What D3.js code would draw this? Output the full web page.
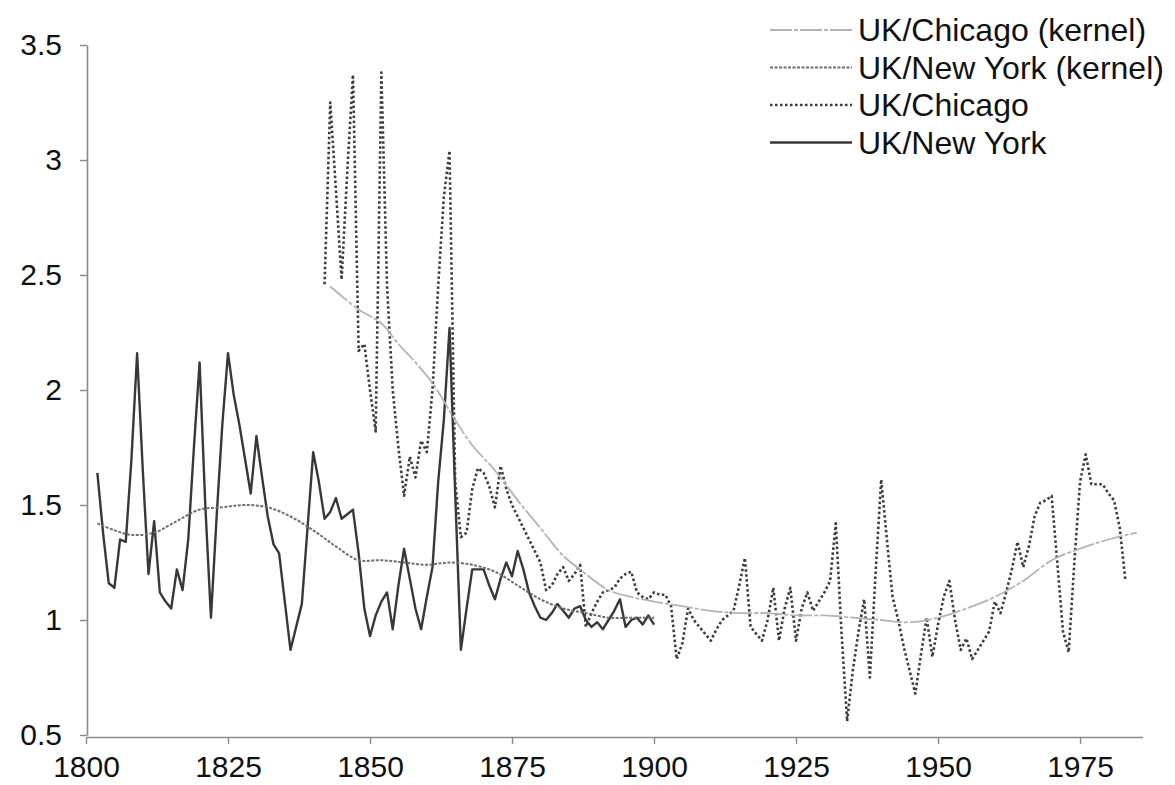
<!DOCTYPE html>
<html>
<head>
<meta charset="utf-8">
<script src="https://cdn.jsdelivr.net/npm/d3@7"></script>
<style>
  body { margin: 0; background: #fff; }
  svg { display: block; font-family: "Liberation Sans", Arial, sans-serif; }
</style>
</head>
<body>
<script>
// annual series
const nyYears = d3.range(1802, 1901);
const nyValues = [
  1.64, 1.38, 1.16, 1.14, 1.35, 1.34, 1.70, 2.16, 1.65, 1.20,
  1.43, 1.12, 1.08, 1.05, 1.22, 1.13, 1.35, 1.75, 2.12, 1.50,
  1.01, 1.45, 1.85, 2.16, 1.98, 1.85, 1.70, 1.55, 1.80, 1.62,
  1.45, 1.33, 1.29, 1.08, 0.87, 0.97, 1.07, 1.40, 1.73, 1.60,
  1.44, 1.47, 1.53, 1.44, 1.46, 1.48, 1.29, 1.05, 0.93, 1.02,
  1.08, 1.12, 0.96, 1.15, 1.31, 1.18, 1.05, 0.96, 1.10, 1.23,
  1.60, 1.87, 2.27, 1.55, 0.87, 1.05, 1.22, 1.22, 1.22, 1.15,
  1.09, 1.18, 1.25, 1.19, 1.30, 1.22, 1.12, 1.06, 1.01, 1.00,
  1.03, 1.07, 1.04, 1.01, 1.05, 1.06, 1.00, 0.97, 0.99, 0.96,
  1.00, 1.04, 1.09, 0.97, 1.00, 1.01, 0.98, 1.02, 0.98
];

const chiYears = d3.range(1842, 1985);
const chiValues = [
  2.46, 3.25, 2.87, 2.48, 2.95, 3.37, 2.17, 2.20, 2.00, 1.82,
  3.38, 2.45, 2.00, 1.75, 1.54, 1.71, 1.62, 1.78, 1.73, 2.00,
  2.45, 2.84, 3.04, 1.60, 1.36, 1.38, 1.57, 1.66, 1.64, 1.58,
  1.49, 1.67, 1.57, 1.50, 1.45, 1.40, 1.35, 1.30, 1.25, 1.13,
  1.15, 1.20, 1.23, 1.17, 1.20, 1.24, 0.97, 1.03, 1.08, 1.12,
  1.13, 1.14, 1.18, 1.20, 1.21, 1.12, 1.10, 1.09, 1.12, 1.11,
  1.11, 1.06, 0.83, 0.90, 1.05, 1.00, 0.97, 0.94, 0.91, 0.96,
  1.00, 1.02, 1.04, 1.15, 1.27, 0.97, 0.94, 0.91, 1.00, 1.14,
  0.91, 1.05, 1.14, 0.91, 1.05, 1.12, 1.04, 1.08, 1.12, 1.17,
  1.42, 0.95, 0.56, 0.78, 0.95, 1.09, 0.75, 1.20, 1.61, 1.35,
  1.10, 1.00, 0.88, 0.78, 0.68, 0.85, 1.01, 0.84, 0.98, 1.10,
  1.17, 1.00, 0.87, 0.92, 0.83, 0.87, 0.91, 0.95, 1.08, 1.03,
  1.12, 1.22, 1.34, 1.23, 1.32, 1.45, 1.51, 1.52, 1.54, 1.25,
  0.95, 0.86, 1.25, 1.60, 1.72, 1.59, 1.59, 1.59, 1.55, 1.52,
  1.40, 1.17
];

// kernel curves
const nyKernelYears = [1802, 1805, 1808, 1812, 1816, 1820, 1824, 1828, 1832, 1836, 1840, 1844, 1848,
  1852, 1856, 1860, 1864, 1868, 1872, 1876, 1880, 1884, 1888, 1892, 1896, 1900];
const nyKernelValues = [1.42, 1.39, 1.37, 1.38, 1.43, 1.48, 1.49, 1.50, 1.49, 1.45, 1.39, 1.32, 1.26,
  1.26, 1.25, 1.24, 1.25, 1.24, 1.21, 1.15, 1.09, 1.05, 1.03, 1.01, 1.01, 1.01];

const chiKernelYears = [1843, 1848, 1852, 1855, 1858, 1861, 1865, 1868, 1872, 1876, 1880, 1884, 1888,
  1892, 1896, 1900, 1905, 1910, 1915, 1920, 1925, 1930, 1935, 1940, 1945, 1950, 1955, 1960,
  1965, 1970, 1975, 1980, 1985];
const chiKernelValues = [2.45, 2.35, 2.29, 2.20, 2.12, 2.03, 1.87, 1.76, 1.65, 1.52, 1.40, 1.28, 1.20,
  1.13, 1.10, 1.08, 1.06, 1.04, 1.03, 1.03, 1.02, 1.02, 1.01, 1.00, 0.99, 1.01, 1.05, 1.10,
  1.17, 1.26, 1.31, 1.35, 1.38];

const yTicks = [0.5, 1, 1.5, 2, 2.5, 3, 3.5];
const xTicks = [1800, 1825, 1850, 1875, 1900, 1925, 1950, 1975];

const legendLabels = ["UK/Chicago (kernel)", "UK/New York (kernel)", "UK/Chicago", "UK/New York"];

function main(){
    const width = 1175;
    const height = 785;

    const svg = d3.select("body").append("svg")
        .attr("width", width)
        .attr("height", height);

    const x = d3.scaleLinear().domain([1800, 1986]).range([86, 1142.5]);
    const y = d3.scaleLinear().domain([0.5, 3.5]).range([735, 45]);

    // styles for each series, same order as legendLabels
    const styles = [
        {stroke: "#b4b4b4", width: 1.8, dash: "22,2,4,2"},
        {stroke: "#6e6e6e", width: 2, dash: "3,1.5"},
        {stroke: "#3c3c3c", width: 2.6, dash: "2.5,2.5"},
        {stroke: "#383838", width: 2.4, dash: null}
    ];

    const axisColor = "#8a8a8a";

    // y axis
    const yAxis = svg.append("g")
        .attr("transform", "translate(87,0)")
        .call(d3.axisLeft(y).tickValues(yTicks).tickSize(7).tickSizeOuter(0).tickPadding(18)
            .tickFormat(d => d % 1 ? d.toFixed(1) : d));

    // x axis, labels sit tight against the bottom edge
    const xAxis = svg.append("g")
        .attr("transform", "translate(0,737)")
        .call(d3.axisBottom(x).tickValues(xTicks).tickSize(7).tickSizeOuter(0).tickPadding(12)
            .tickFormat(d3.format("d")));

    [yAxis, xAxis].forEach(function(g){
        g.select(".domain").attr("stroke", axisColor).attr("stroke-width", 1.6);
        g.selectAll(".tick line").attr("stroke", axisColor).attr("stroke-width", 1.4);
        g.selectAll(".tick text")
            .attr("fill", "#111")
            .style("font-size", "30px")
            .style("font-family", "'Liberation Sans', Arial, sans-serif");
    });

    const line = d3.line()
        .x(d => x(d[0]))
        .y(d => y(d[1]));

    const smooth = d3.line()
        .curve(d3.curveCatmullRom.alpha(0.5))
        .x(d => x(d[0]))
        .y(d => y(d[1]));

    const series = [
        {pts: d3.zip(chiKernelYears, chiKernelValues), gen: smooth, style: styles[0]},
        {pts: d3.zip(nyKernelYears, nyKernelValues), gen: smooth, style: styles[1]},
        {pts: d3.zip(chiYears, chiValues), gen: line, style: styles[2]},
        {pts: d3.zip(nyYears, nyValues), gen: line, style: styles[3]}
    ];

    // draw the raw series first, kernels on top
    [series[3], series[2], series[1], series[0]].forEach(function(s){
        svg.append("path")
            .attr("d", s.gen(s.pts))
            .attr("fill", "none")
            .attr("stroke", s.style.stroke)
            .attr("stroke-width", s.style.width)
            .attr("stroke-dasharray", s.style.dash)
            .attr("stroke-linejoin", "round");
    });

    // legend
    const legend = svg.append("g");
    legendLabels.forEach(function(label, i){
        const cy = 30 + i * 37.5;
        legend.append("line")
            .attr("x1", 770).attr("x2", 852)
            .attr("y1", cy).attr("y2", cy)
            .attr("stroke", styles[i].stroke)
            .attr("stroke-width", styles[i].width)
            .attr("stroke-dasharray", styles[i].dash);
        legend.append("text")
            .attr("x", 858)
            .attr("y", cy)
            .attr("dy", "0.35em")
            .attr("fill", "#111")
            .style("font-size", "32px")
            .text(label);
    });
}
main();
</script>
</body>
</html>
